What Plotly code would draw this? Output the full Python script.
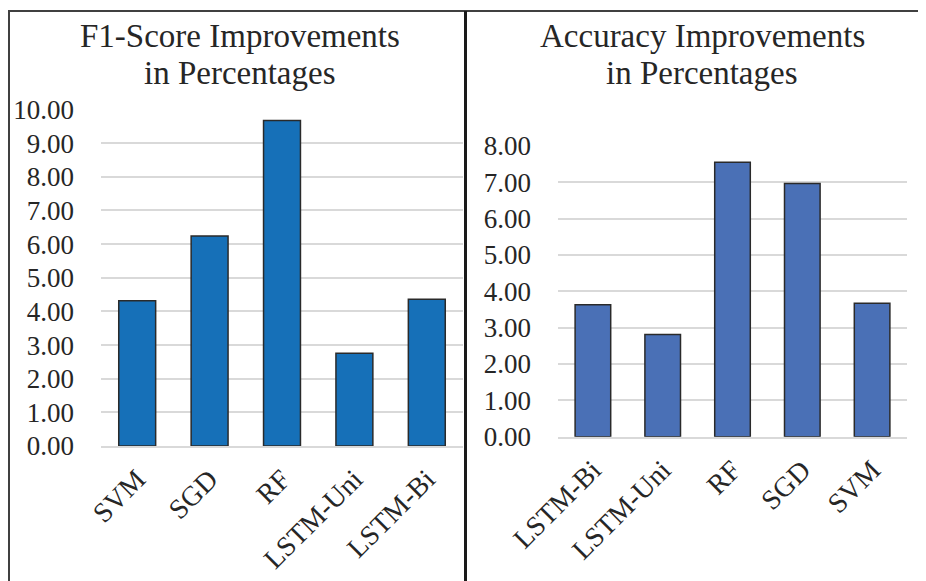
import plotly.graph_objects as go

W, H = 926, 581
OFF = 8  # browser default body margin
FW, FH = W - OFF, H - OFF

# Data
f1_categories = ["SVM", "SGD", "RF", "LSTM-Uni", "LSTM-Bi"]
f1_values = [4.32, 6.24, 9.67, 2.76, 4.36]

acc_categories = ["LSTM-Bi", "LSTM-Uni", "RF", "SGD", "SVM"]
acc_values = [3.63, 2.81, 7.55, 6.97, 3.67]

f1_title_lines = ["F1-Score Improvements", "in Percentages"]
acc_title_lines = ["Accuracy Improvements", "in Percentages"]

FONT = "Liberation Serif, Times New Roman, serif"
TXT = "#262626"


def px_x(p):
    return (p - OFF) / FW


def px_y(p):
    return 1 - (p - OFF) / FH


fig = go.Figure()
fig.add_trace(go.Bar(x=f1_categories, y=f1_values, xaxis="x", yaxis="y",
                     marker=dict(color="#1670b8", line=dict(color="#2a2a2a", width=1.5)),
                     showlegend=False))
fig.add_trace(go.Bar(x=acc_categories, y=acc_values, xaxis="x2", yaxis="y2",
                     marker=dict(color="#4a70b6", line=dict(color="#2a2a2a", width=1.5)),
                     showlegend=False))

yax_common = dict(showgrid=True, gridcolor="#d9d9d9", gridwidth=1.5,
                  zeroline=False, showline=False, tickformat=".2f",
                  tickfont=dict(family=FONT, size=27, color=TXT),
                  ticklabelstandoff=26, fixedrange=True)
xax_common = dict(showgrid=False, zeroline=False, showline=True, linecolor="#d9d9d9",
                  linewidth=1.5, tickangle=-45, ticklabelstandoff=4,
                  tickfont=dict(family=FONT, size=28, color=TXT), fixedrange=True)

annotations = []
for lines, cx in ((f1_title_lines, 240), (acc_title_lines, 702)):
    for line, top in zip(lines, (16, 53)):
        annotations.append(dict(text=line, x=px_x(cx), y=px_y(top), xref="paper", yref="paper",
                                xanchor="center", yanchor="top", showarrow=False,
                                font=dict(family=FONT, size=33, color=TXT)))

fig.update_layout(
    width=FW, height=FH,
    margin=dict(l=0, r=0, t=0, b=0),
    paper_bgcolor="white", plot_bgcolor="white",
    bargap=0.49,
    xaxis=dict(domain=[px_x(101), px_x(463)], anchor="y", automargin=False, **xax_common),
    yaxis=dict(domain=[px_y(446), px_y(109.5)], anchor="x", range=[0, 10], dtick=1,
               automargin=False, **yax_common),
    xaxis2=dict(domain=[px_x(558), px_x(907)], anchor="y2", automargin=False, **xax_common),
    yaxis2=dict(domain=[px_y(436.7), px_y(146)], anchor="x2", range=[0, 8], dtick=1,
                automargin=False, **yax_common),
    annotations=annotations,
    shapes=[
        dict(type="line", xref="paper", yref="paper", x0=px_x(9), x1=px_x(9),
             y0=px_y(11), y1=px_y(600), line=dict(color="#404040", width=2)),
        dict(type="line", xref="paper", yref="paper", x0=px_x(8), x1=px_x(930),
             y0=px_y(11), y1=px_y(11), line=dict(color="#404040", width=2)),
        dict(type="line", xref="paper", yref="paper", x0=px_x(465.5), x1=px_x(465.5),
             y0=px_y(11), y1=px_y(600), line=dict(color="#1a1a1a", width=3)),
    ],
)

fig.write_html("out.html")
